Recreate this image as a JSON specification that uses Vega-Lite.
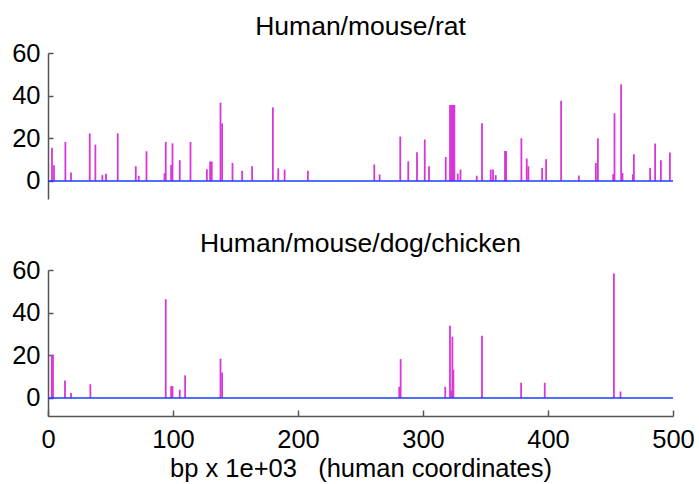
{
  "$schema": "https://vega.github.io/schema/vega-lite/v6.json",
  "padding": {"left": 0, "top": 13, "right": 0, "bottom": 0},
  "background": "white",
  "config": {
    "view": {"stroke": null},
    "font": "Liberation Sans",
    "axis": {"labelFont": "Liberation Sans", "labelFontSize": 25.5, "labelColor": "#000", "titleFont": "Liberation Sans", "titleFontSize": 25.5, "titleFontWeight": "normal", "titleColor": "#000", "domainColor": "#555", "tickColor": "#555", "grid": false, "tickSize": -5, "domainWidth": 1.5, "tickWidth": 1.5},
    "title": {"font": "Liberation Sans", "fontSize": 26.5, "fontWeight": "normal", "color": "#000", "anchor": "middle"},
    "concat": {"spacing": 31}
  },
  "datasets": {
    "hmr": [
      {"pos": 3.2, "score": 15.6}, {"pos": 4.8, "score": 7.3}, {"pos": 13.9, "score": 18.3}, {"pos": 18.4, "score": 3.9},
      {"pos": 33.4, "score": 22.3}, {"pos": 37.9, "score": 17.0}, {"pos": 43.5, "score": 2.7}, {"pos": 46.4, "score": 3.3},
      {"pos": 55.8, "score": 22.3}, {"pos": 70.2, "score": 6.9}, {"pos": 72.6, "score": 2.4}, {"pos": 78.8, "score": 13.9},
      {"pos": 93.2, "score": 3.6}, {"pos": 94.2, "score": 18.3}, {"pos": 98.5, "score": 7.5}, {"pos": 99.6, "score": 17.6},
      {"pos": 105.4, "score": 9.7}, {"pos": 114.0, "score": 18.2}, {"pos": 127.1, "score": 5.5}, {"pos": 129.7, "score": 9.1},
      {"pos": 131.0, "score": 9.1}, {"pos": 138.0, "score": 36.7}, {"pos": 139.3, "score": 27.0}, {"pos": 147.6, "score": 8.4},
      {"pos": 155.3, "score": 4.7}, {"pos": 163.3, "score": 6.9}, {"pos": 179.9, "score": 34.5}, {"pos": 184.2, "score": 5.9},
      {"pos": 189.3, "score": 5.3}, {"pos": 207.9, "score": 4.7}, {"pos": 261.0, "score": 7.7}, {"pos": 265.3, "score": 3.0},
      {"pos": 281.8, "score": 20.8}, {"pos": 288.2, "score": 9.2}, {"pos": 295.2, "score": 13.4}, {"pos": 301.4, "score": 19.4},
      {"pos": 304.8, "score": 6.9}, {"pos": 318.2, "score": 11.2}, {"pos": 321.6, "score": 35.6}, {"pos": 322.5, "score": 35.6},
      {"pos": 323.4, "score": 35.6}, {"pos": 324.3, "score": 35.6}, {"pos": 325.1, "score": 35.6}, {"pos": 327.8, "score": 3.4},
      {"pos": 330.0, "score": 5.3}, {"pos": 343.0, "score": 2.4}, {"pos": 347.2, "score": 27.0}, {"pos": 354.2, "score": 5.3},
      {"pos": 356.0, "score": 5.3}, {"pos": 358.2, "score": 2.7}, {"pos": 365.6, "score": 14.0}, {"pos": 366.5, "score": 14.0},
      {"pos": 378.7, "score": 20.0}, {"pos": 383.0, "score": 10.5}, {"pos": 384.3, "score": 6.9}, {"pos": 395.3, "score": 6.1},
      {"pos": 398.5, "score": 10.2}, {"pos": 410.5, "score": 37.6}, {"pos": 424.7, "score": 2.5}, {"pos": 438.3, "score": 8.4},
      {"pos": 439.9, "score": 20.0}, {"pos": 452.1, "score": 3.1}, {"pos": 453.2, "score": 31.7}, {"pos": 458.5, "score": 45.3},
      {"pos": 459.6, "score": 3.7}, {"pos": 467.9, "score": 3.1}, {"pos": 468.7, "score": 12.5}, {"pos": 481.7, "score": 6.1},
      {"pos": 485.7, "score": 17.5}, {"pos": 490.3, "score": 9.7}, {"pos": 497.5, "score": 13.3}
    ],
    "hmdc": [
      {"pos": 3.0, "score": 20.2}, {"pos": 4.0, "score": 20.2}, {"pos": 13.6, "score": 8.1}, {"pos": 18.4, "score": 2.3},
      {"pos": 33.9, "score": 6.4}, {"pos": 94.2, "score": 46.3}, {"pos": 98.5, "score": 5.5}, {"pos": 99.6, "score": 5.5},
      {"pos": 105.4, "score": 3.8}, {"pos": 109.7, "score": 10.6}, {"pos": 138.0, "score": 18.4}, {"pos": 139.3, "score": 11.9},
      {"pos": 281.0, "score": 5.2}, {"pos": 282.1, "score": 18.2}, {"pos": 317.8, "score": 5.2}, {"pos": 321.6, "score": 33.9},
      {"pos": 322.6, "score": 3.4}, {"pos": 323.5, "score": 28.7}, {"pos": 324.3, "score": 13.2}, {"pos": 347.2, "score": 29.2},
      {"pos": 378.5, "score": 7.1}, {"pos": 397.4, "score": 7.1}, {"pos": 452.7, "score": 58.4}, {"pos": 458.0, "score": 3.0}
    ]
  },
  "vconcat": [
    {
      "width": 625,
      "height": 146,
      "title": {"text": "Human/mouse/rat", "offset": 1},
      "layer": [
        {
          "data": {"name": "hmr"},
          "mark": {"type": "rule", "color": "#d935d9", "strokeWidth": 1.8},
          "encoding": {
            "x": {"field": "pos", "type": "quantitative", "scale": {"domain": [0, 500], "nice": false}, "axis": null},
            "y": {"field": "score", "type": "quantitative", "scale": {"domain": [-8.5, 60], "nice": false, "zero": false}, "axis": {"values": [0, 20, 40, 60], "title": null, "minExtent": 48, "maxExtent": 48, "labelPadding": 13}},
            "y2": {"datum": 0}
          }
        },
        {
          "data": {"values": [{}]},
          "mark": {"type": "rule", "color": "#1a3cff", "strokeWidth": 1.5},
          "encoding": {"y": {"datum": 0}}
        }
      ]
    },
    {
      "width": 625,
      "height": 146,
      "title": {"text": "Human/mouse/dog/chicken", "offset": 1},
      "layer": [
        {
          "data": {"name": "hmdc"},
          "mark": {"type": "rule", "color": "#d935d9", "strokeWidth": 1.8},
          "encoding": {
            "x": {"field": "pos", "type": "quantitative", "scale": {"domain": [0, 500], "nice": false}, "axis": {"values": [0, 100, 200, 300, 400, 500], "title": "bp x 1e+03\u00a0\u00a0\u00a0(human coordinates)", "labelFlush": false, "labelOverlap": false, "tickSize": -6, "labelPadding": 17, "titlePadding": 4}},
            "y": {"field": "score", "type": "quantitative", "scale": {"domain": [-8.5, 60], "nice": false, "zero": false}, "axis": {"values": [0, 20, 40, 60], "title": null, "minExtent": 48, "maxExtent": 48, "labelPadding": 13}},
            "y2": {"datum": 0}
          }
        },
        {
          "data": {"values": [{}]},
          "mark": {"type": "rule", "color": "#1a3cff", "strokeWidth": 1.5},
          "encoding": {"y": {"datum": 0}}
        }
      ]
    }
  ]
}
